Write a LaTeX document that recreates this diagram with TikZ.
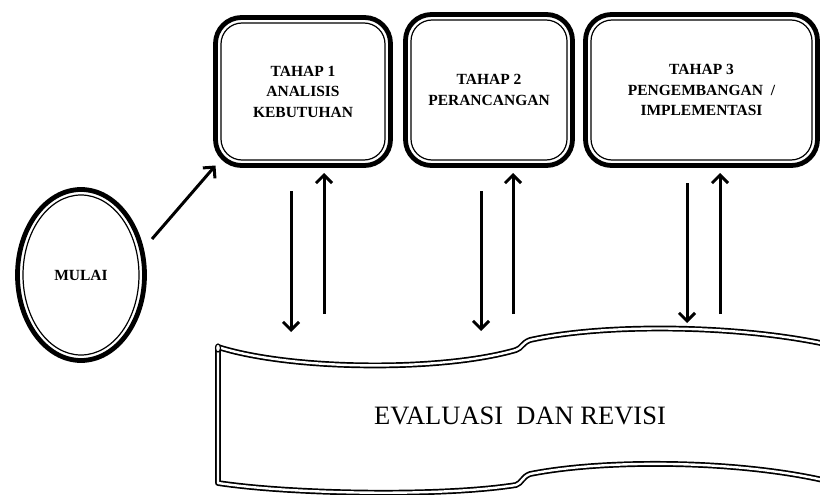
\documentclass[tikz,border=0pt]{standalone}
\usepackage{fontspec}
\setmainfont{Liberation Serif}
\usetikzlibrary{arrows.meta,shapes.geometric}
\begin{document}
\begin{tikzpicture}[x=1pt,y=-1pt,
  stagebox/.style={draw, line width=4.8pt, rounded corners=26pt, align=center,
    font=\bfseries\fontsize{15.5}{20.5}\selectfont, inner sep=0pt, outer sep=0pt},
  innerline/.style={line width=1.2pt},
  flow/.style={line width=3pt, -{Straight Barb[length=8pt,width=16pt]}},
  bannerline/.style={draw=black, double=white, double distance=2.4pt,
    line width=1.7pt, line join=round}]
\useasboundingbox (0,0) rectangle (820,495);
\clip (0,0) rectangle (820,495);

% stage boxes (thick outer line, thin inner line)
\node[stagebox, minimum width=175pt, minimum height=148pt] (b1) at (303,91.5)
  {TAHAP 1\\ANALISIS\\KEBUTUHAN};
\node[stagebox, minimum width=167pt, minimum height=151pt] (b2) at (489,90)
  {TAHAP 2\\PERANCANGAN};
\node[stagebox, minimum width=232pt, minimum height=151pt] (b3) at (701.5,90)
  {TAHAP 3\\PENGEMBANGAN\ \ /\\IMPLEMENTASI};
\foreach \b in {b1,b2,b3}
  \draw[innerline, rounded corners=21pt]
    ([shift={(5.5pt,-5.5pt)}]\b.north west) rectangle ([shift={(-5.5pt,5.5pt)}]\b.south east);

% start ellipse
\node[draw, ellipse, line width=4.8pt, minimum width=127pt, minimum height=171pt,
  inner sep=0pt, outer sep=0pt, font=\bfseries\fontsize{15.5}{18}\selectfont] (mulai) at (81,275) {MULAI};
\draw[innerline] (mulai.center) ellipse [x radius=58, y radius=80];

% evaluation banner
\draw[bannerline, fill=white]
  (218,347) .. controls (290,370) and (440,372) .. (516,350)
  .. controls (522,348) and (522,343) .. (530,340)
  .. controls (610,322) and (760,325) .. (850,350)
  -- (850,487)
  .. controls (760,460) and (610,458) .. (530,474)
  .. controls (522,477) and (522,483) .. (516,485)
  .. controls (440,497) and (290,494) .. (218,483) -- cycle;
\draw[line width=1.2pt, fill=white] (218,348) ellipse [x radius=2.5, y radius=4];
\node[font=\fontsize{26.5}{30}\selectfont] (evr) at (520,416) {EVALUASI\ \ DAN REVISI};

% connectors
\coordinate (m0) at (152,239);
\draw[flow] (m0) -- (b1.south west);

\coordinate (d1a) at (291,191); \coordinate (d1b) at (291,332);
\coordinate (u1a) at (324,314); \coordinate (u1b) at (324,173);
\coordinate (d2a) at (481,191); \coordinate (d2b) at (481,331);
\coordinate (u2a) at (513,314); \coordinate (u2b) at (513,173);
\coordinate (d3a) at (687,183); \coordinate (d3b) at (687,323);
\coordinate (u3a) at (720,314); \coordinate (u3b) at (720,173);
\foreach \a/\z in {d1a/d1b,u1a/u1b,d2a/d2b,u2a/u2b,d3a/d3b,u3a/u3b}
  \draw[flow] (\a) -- (\z);
\end{tikzpicture}
\end{document}
